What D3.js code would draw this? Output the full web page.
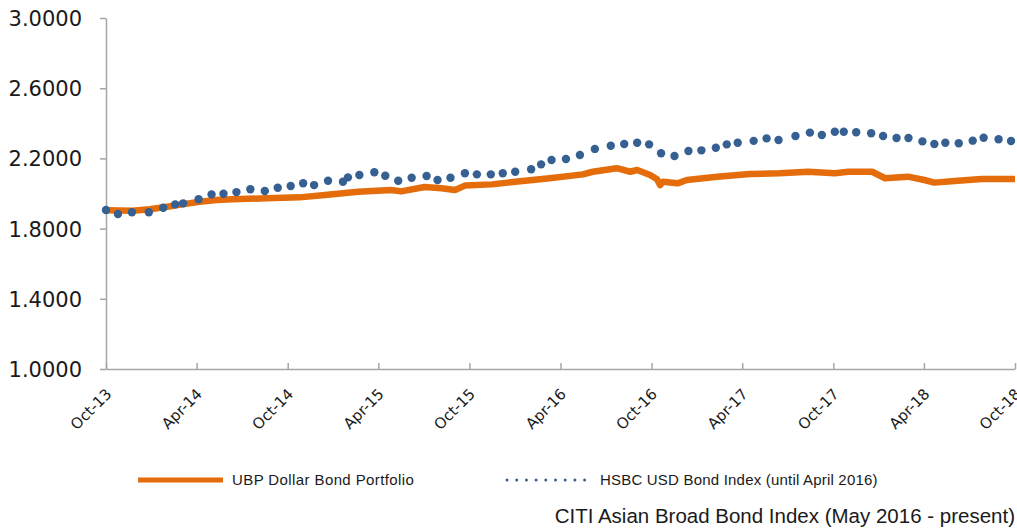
<!DOCTYPE html>
<html><head><meta charset="utf-8">
<script src="https://cdn.jsdelivr.net/npm/d3@7"></script>
<style>html,body{margin:0;padding:0;background:#fff;}svg{display:block;}</style>
</head><body>
<svg id="chart" width="1017" height="531"></svg>
<script>
// ---- data ----
const ubpDates = ["2013-10-01","2013-11-24","2013-12-28","2014-02-01","2014-03-03","2014-04-07","2014-05-11","2014-06-12","2014-08-20","2014-10-25","2014-12-15","2015-02-19","2015-04-27","2015-05-17","2015-07-03","2015-08-06","2015-09-02","2015-09-22","2015-11-15","2015-12-17","2016-01-21","2016-03-10","2016-05-16","2016-06-05","2016-07-23","2016-08-19","2016-09-02","2016-09-28","2016-10-12","2016-10-18","2016-10-24","2016-11-22","2016-12-11","2017-02-10","2017-04-16","2017-06-15","2017-08-11","2017-10-04","2017-10-31","2017-12-18","2018-01-13","2018-02-28","2018-04-02","2018-04-22","2018-06-08","2018-07-26","2018-10-01"];
const ubpValues = [1.905,1.902,1.910,1.925,1.938,1.953,1.963,1.967,1.973,1.978,1.992,2.010,2.020,2.012,2.037,2.030,2.020,2.045,2.052,2.062,2.073,2.087,2.109,2.124,2.144,2.124,2.134,2.105,2.081,2.048,2.067,2.058,2.077,2.096,2.111,2.115,2.124,2.115,2.124,2.124,2.087,2.096,2.077,2.062,2.073,2.083,2.083];

const hsbcDates = ["2013-10-01","2013-10-25","2013-11-22","2013-12-26","2014-01-24","2014-02-17","2014-03-05","2014-04-05","2014-05-01","2014-05-25","2014-06-20","2014-07-18","2014-08-16","2014-09-11","2014-10-07","2014-11-01","2014-11-23","2014-12-21","2015-01-20","2015-01-30","2015-02-22","2015-03-24","2015-04-15","2015-05-11","2015-06-07","2015-07-07","2015-07-29","2015-08-24","2015-09-22","2015-10-16","2015-11-13","2015-12-07","2016-01-01","2016-02-02","2016-02-22","2016-03-14","2016-04-12","2016-05-10","2016-06-09","2016-07-11","2016-08-07","2016-09-02","2016-09-26","2016-10-20","2016-11-16","2016-12-14","2017-01-09","2017-02-07","2017-03-01","2017-03-23","2017-04-24","2017-05-20","2017-06-13","2017-07-17","2017-08-15","2017-09-08","2017-10-04","2017-10-22","2017-11-16","2017-12-16","2018-01-09","2018-02-05","2018-03-01","2018-03-29","2018-04-22","2018-05-14","2018-06-10","2018-07-08","2018-07-30","2018-08-29","2018-09-23"];
const hsbcValues = [1.906,1.883,1.893,1.893,1.919,1.938,1.944,1.967,1.995,1.999,2.008,2.024,2.014,2.033,2.043,2.058,2.048,2.073,2.067,2.092,2.105,2.121,2.101,2.073,2.090,2.100,2.077,2.090,2.115,2.109,2.109,2.115,2.124,2.138,2.166,2.191,2.197,2.219,2.254,2.272,2.282,2.289,2.280,2.229,2.214,2.242,2.246,2.261,2.280,2.289,2.300,2.314,2.305,2.328,2.347,2.333,2.352,2.352,2.349,2.343,2.328,2.316,2.316,2.297,2.282,2.289,2.286,2.301,2.318,2.309,2.299];

const yTicks = [1.0, 1.4, 1.8, 2.2, 2.6, 3.0];
const xTickDates = ["2013-10-01","2014-04-01","2014-10-01","2015-04-01","2015-10-01","2016-04-01","2016-10-01","2017-04-01","2017-10-01","2018-04-01","2018-10-01"];
const seriesNames = ["UBP Dollar Bond Portfolio", "HSBC USD Bond Index (until April 2016)"];
const footnote = "CITI Asian Broad Bond Index (May  2016 - present)";

// ---- drawing ----
const parse = d3.timeParse("%Y-%m-%d");
const svg = d3.select("#chart");
const ORANGE = "#E46C0A", BLUE = "#376092", AXIS = "#A6A6A6", TEXT = "#1a1a1a";

const x = d3.scaleTime().domain([parse("2013-10-01"), parse("2018-10-01")]).range([106, 1015]);
const y = d3.scaleLinear().domain([1, 3]).range([369, 18]);

// y axis
const yAxis = svg.append("g").attr("transform", "translate(106,0)")
  .call(d3.axisLeft(y).tickValues(yTicks).tickFormat(d3.format(".4f")).tickSizeInner(6).tickSizeOuter(0).tickPadding(18));
yAxis.select(".domain").attr("stroke", AXIS).attr("stroke-width", 1.5);
yAxis.selectAll(".tick line").attr("stroke", AXIS).attr("stroke-width", 1.5);
yAxis.selectAll(".tick text").attr("fill", TEXT).attr("font-family", "DejaVu Sans").attr("font-size", 21).attr("dy", "0.36em");

// x axis
const xAxis = svg.append("g").attr("transform", "translate(0,369)")
  .call(d3.axisBottom(x).tickValues(xTickDates.map(parse)).tickFormat(d3.timeFormat("%b-%y")).tickSizeInner(-6).tickSizeOuter(0));
xAxis.select(".domain").attr("stroke", AXIS).attr("stroke-width", 1.5);
xAxis.selectAll(".tick line").attr("stroke", AXIS).attr("stroke-width", 1.5);
xAxis.selectAll(".tick text").attr("fill", TEXT).attr("font-family", "DejaVu Sans").attr("font-size", 15)
  .attr("text-anchor", "end").attr("dy", 0).attr("y", 0)
  .attr("transform", "translate(6,26) rotate(-45)");

// orange line
const ubp = ubpDates.map((d, i) => ({date: parse(d), value: ubpValues[i]}));
const line = d3.line().x(d => x(d.date)).y(d => y(d.value));
svg.append("path").datum(ubp).attr("d", line).attr("fill", "none")
  .attr("stroke", ORANGE).attr("stroke-width", 6.5).attr("stroke-linejoin", "round");

// blue dotted series
const hsbc = hsbcDates.map((d, i) => ({date: parse(d), value: hsbcValues[i]}));
svg.append("g").selectAll("circle").data(hsbc).join("circle")
  .attr("cx", d => x(d.date)).attr("cy", d => y(d.value)).attr("r", 4.2).attr("fill", BLUE);

// legend
const lg = svg.append("g");
lg.append("line").attr("x1", 138).attr("x2", 223).attr("y1", 480).attr("y2", 480)
  .attr("stroke", ORANGE).attr("stroke-width", 5);
lg.append("text").attr("x", 232).attr("y", 480).attr("dy", "0.35em").attr("fill", TEXT)
  .attr("font-family", "Liberation Sans").attr("font-size", 15).attr("letter-spacing", 0.4).text(seriesNames[0]);
lg.append("line").attr("x1", 507).attr("x2", 585).attr("y1", 480).attr("y2", 480)
  .attr("stroke", BLUE).attr("stroke-width", 3).attr("stroke-linecap", "round").attr("stroke-dasharray", "0 9.7");
lg.append("text").attr("x", 600).attr("y", 480).attr("dy", "0.35em").attr("fill", TEXT)
  .attr("font-family", "Liberation Sans").attr("font-size", 15).attr("letter-spacing", 0.2).text(seriesNames[1]);

svg.append("text").attr("x", 1015).attr("y", 516).attr("dy", "0.35em").attr("text-anchor", "end")
  .attr("fill", TEXT).attr("font-family", "Liberation Sans").attr("font-size", 20.5).text(footnote);
</script>
</body></html>
